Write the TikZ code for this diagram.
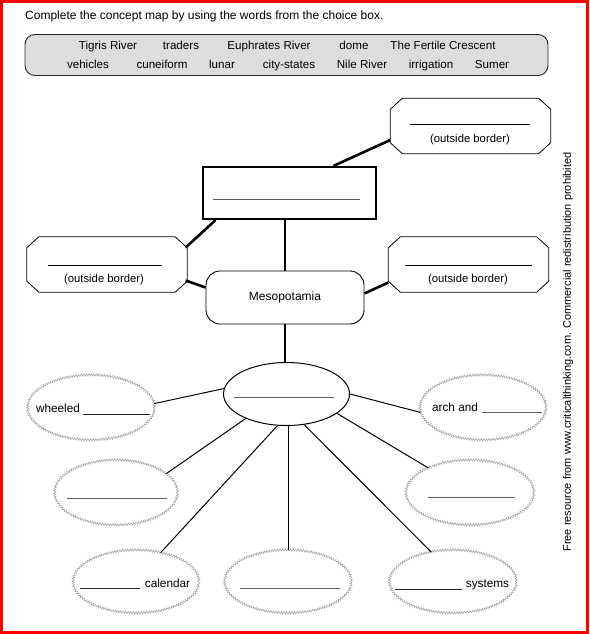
\documentclass[tikz,border=0pt]{standalone}
\usepackage{fontspec}
\setmainfont{Liberation Sans}
\usetikzlibrary{shapes.geometric,decorations.pathmorphing}
\definecolor{boxgray}{HTML}{DCDDDE}
\definecolor{scallop}{HTML}{A0A0A0}
\definecolor{blankline}{HTML}{5E5E5E}
\newcommand{\octdraw}[1]{%
  \draw[octline] ([xshift=12pt]#1.north west) -- ([xshift=-12pt]#1.north east)
    -- ([yshift=-11pt]#1.north east) -- ([yshift=11pt]#1.south east)
    -- ([xshift=-12pt]#1.south east) -- ([xshift=12pt]#1.south west)
    -- ([yshift=11pt]#1.south west) -- ([yshift=-11pt]#1.north west) -- cycle;}
\tikzset{
  octbox/.style={rectangle, inner sep=0pt, minimum width=160pt, minimum height=55pt},
  octline/.style={draw=black, line width=0.8pt},
  thickconn/.style={line width=2.6pt, black},
  thinconn/.style={line width=1pt, black},
  wavy/.style={ellipse, inner sep=0pt, draw=scallop, line width=0.55pt,
    decorate, decoration={snake, segment length=2.6pt, amplitude=1.1pt}},
  word/.style={inner sep=0pt, text height=8.4pt, text depth=2.4pt, font=\fontsize{11.6}{13}\selectfont},
  lbl/.style={inner sep=0pt, text height=8.4pt, text depth=2.4pt, font=\fontsize{11.8}{13}\selectfont},
  blank/.style={line width=1pt, blankline},
  blankdark/.style={line width=1pt, black!85},
}
\begin{document}
\begin{tikzpicture}[x=1pt,y=-1pt]
\useasboundingbox (0,0) rectangle (589,634);
\fill[white] (0,0) rectangle (589,634);
\draw[red, line width=3pt] (1.5,1.5) rectangle (587,632.5);

% title
\node[word, anchor=west, font=\fontsize{12}{14}\selectfont] (title) at (25,17) {Complete the concept map by using the words from the choice box.};

% choice box
\node[draw=black!85, line width=0.9pt, fill=boxgray, rounded corners=10pt, minimum width=523pt, minimum height=41pt] (choice) at (286.5,55) {};
\node[word] (w1) at (108,47) {Tigris River};
\node[word] (w2) at (181,47) {traders};
\node[word] (w3) at (269,47) {Euphrates River};
\node[word] (w4) at (354,47) {dome};
\node[word] (w5) at (443,47) {The Fertile Crescent};
\node[word] (w6) at (88,65) {vehicles};
\node[word] (w7) at (162,65) {cuneiform};
\node[word] (w8) at (222,65) {lunar};
\node[word] (w9) at (289,65) {city-states};
\node[word] (w10) at (362,65) {Nile River};
\node[word] (w11) at (431,65) {irrigation};
\node[word] (w12) at (492,65) {Sumer};

% octagons
\node[octbox] (octTR) at (470.5,126) {};
\node[octbox] (octL) at (107,264.5) {};
\node[octbox] (octR) at (468.5,264.5) {};
\octdraw{octTR}
\octdraw{octL}
\octdraw{octR}
\draw[line width=0.9pt] (410,124) -- (530,124);
\node[lbl, font=\fontsize{11.3}{13}\selectfont] (tTR) at (470,139) {(outside border)};
\draw[line width=0.9pt] (48,265) -- (162,265);
\node[lbl, font=\fontsize{11.3}{13}\selectfont] (tL) at (104,279) {(outside border)};
\draw[line width=0.9pt] (405,265) -- (532,265);
\node[lbl, font=\fontsize{11.3}{13}\selectfont] (tR) at (468,279) {(outside border)};

% top rectangle
\node[draw=black, line width=2.2pt, minimum width=173pt, minimum height=52pt, inner sep=0pt] (R) at (289.5,193) {};
\draw[blank] (213,199) -- (360,199);

% Mesopotamia
\node[draw=black, line width=0.9pt, rounded corners=14pt, minimum width=158pt, minimum height=53pt, inner sep=0pt, text height=8.6pt, text depth=2.5pt, font=\fontsize{12}{14}\selectfont] (M) at (285,297.5) {Mesopotamia};

% center ellipse
\node[ellipse, draw=black, line width=1pt, minimum width=126pt, minimum height=63pt, inner sep=0pt] (C) at (286.5,394) {};
\draw[blank] (234,397) -- (334,397);

% thick connectors
\draw[thickconn] ([xshift=44pt]R.north) -- ([yshift=-14pt]octTR.west);
\draw[thickconn] ([xshift=-74pt]R.south) -- ([xshift=-1.5pt,yshift=17pt]octL.east);
\draw[thickconn] (M.north |- R.south) -- (M.north);
\draw[thickconn] ([yshift=10pt]M.west) -- ([xshift=-1.5pt,yshift=-16pt]octL.east);
\draw[thickconn] ([yshift=4pt]M.east) -- ([yshift=-18pt]octR.west);
\draw[thickconn] (M.south) -- (M.south |- C.north);

% outer ellipses
\node[wavy, minimum width=127pt, minimum height=65pt] (e1) at (91,408) {};
\node[wavy, minimum width=126pt, minimum height=65pt] (e2) at (483,408) {};
\node[wavy, minimum width=123pt, minimum height=65pt] (e3) at (116,493) {};
\node[wavy, minimum width=126pt, minimum height=63pt] (e4) at (136,582) {};
\node[wavy, minimum width=127pt, minimum height=63pt] (e5) at (288,582) {};
\node[wavy, minimum width=127pt, minimum height=63pt] (e6) at (453,582) {};
\node[wavy, minimum width=128pt, minimum height=65pt] (e7) at (470,493) {};

% labels and blanks in ellipses
\node[lbl] (l1) at (58,409.5) {wheeled};
\draw[blankdark] (83,414) -- (150,414);
\node[lbl] (l2) at (455,408) {arch and};
\draw[blank] (482,412) -- (542,412);
\draw[blank] (67,498) -- (167,498);
\node[lbl] (l4) at (167.5,584) {calendar};
\draw[blankdark] (80,588) -- (140,588);
\draw[blank] (240,588) -- (340,588);
\node[lbl] (l6) at (487.5,584) {systems};
\draw[blankdark] (395,589) -- (462,589);
\draw[blank] (428,497) -- (515,497);

% thin connectors
\draw[thinconn] (C.175) -- (e1.4);
\draw[thinconn] (C.0) -- (e2.184);
\draw[thinconn] (C.211) -- (e3.21);
\draw[thinconn] (C.254) -- (e4.50);
\draw[thinconn] (e5.north |- C.south) -- (e5.north);
\draw[thinconn] (C.300) -- (e6.126);
\draw[thinconn] (C.339) -- (e7.149);

% side note
\node[inner sep=0pt, rotate=90, font=\fontsize{11}{13}\selectfont] (side) at (568,352) {Free resource from www.criticalthinking.com. Commercial redistribution prohibited};
\end{tikzpicture}
\end{document}
